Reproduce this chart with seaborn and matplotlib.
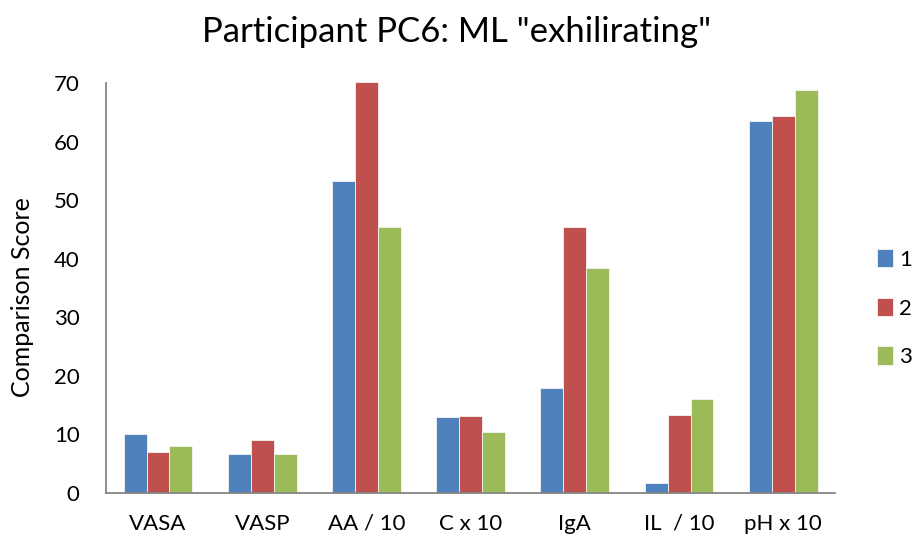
import matplotlib
matplotlib.use("Agg")
import matplotlib.pyplot as plt
import seaborn as sns
import pandas as pd

categories = ["VASA", "VASP", "AA / 10", "C x 10", "IgA", "IL  / 10", "pH x 10"]
series_names = ["1", "2", "3"]
series1 = [10.0, 6.6, 53.3, 13.0, 17.9, 1.6, 63.6]
series2 = [7.0, 9.0, 70.3, 13.1, 45.4, 13.3, 64.4]
series3 = [8.0, 6.6, 45.4, 10.4, 38.4, 16.0, 68.9]
yticks = [0, 10, 20, 30, 40, 50, 60, 70]

colors = ["#4F81BD", "#C0504D", "#9BBB59"]

rows = []
for name, vals in zip(series_names, [series1, series2, series3]):
    for c, v in zip(categories, vals):
        rows.append({"category": c, "series": name, "value": v})
df = pd.DataFrame(rows)

sns.set_style("white")
plt.rcParams["font.family"] = ["Lato", "DejaVu Sans"]
plt.rcParams["text.color"] = "black"
plt.rcParams["axes.labelcolor"] = "black"

fig = plt.figure(figsize=(9.13, 5.4), dpi=100)
ax = fig.add_axes([0.116, 0.0876, 0.799, 0.758])

sns.barplot(data=df, x="category", y="value", hue="series", order=categories,
            hue_order=series_names, palette=colors, width=0.66, gap=0,
            edgecolor="#f4f4f4", linewidth=0.6, saturation=1, ax=ax,
            errorbar=None, legend=True)
for p in ax.patches:
    p.set_clip_on(False)

ax.set_ylim(0, 70)
ax.set_yticks(yticks)
ax.set_xlim(-0.5, len(categories) - 0.5)
ax.tick_params(axis="both", length=0, labelsize=16, colors="black")
ax.tick_params(axis="x", pad=15)
ax.tick_params(axis="y", pad=19)
ax.set_xlabel("")
ax.set_ylabel("Comparison Score", fontsize=18, color="black")
ax.yaxis.set_label_coords(-0.098, 0.479)
for s in ["top", "right"]:
    ax.spines[s].set_visible(False)
for s in ["left", "bottom"]:
    ax.spines[s].set_color("#868686")
    ax.spines[s].set_linewidth(1.3)

handles, labels = ax.get_legend_handles_labels()
leg = ax.legend(handles, labels, loc="center left", bbox_to_anchor=(1.045, 0.451),
                frameon=False, fontsize=16, handlelength=0.7, handleheight=0.9,
                labelspacing=1.25, handletextpad=0.3, borderaxespad=0)
for t in leg.get_texts():
    t.set_color("black")

fig.suptitle('Participant PC6: ML "exhilirating"', fontsize=25, y=0.97, color="black")

fig.savefig("out.png", dpi=100)
